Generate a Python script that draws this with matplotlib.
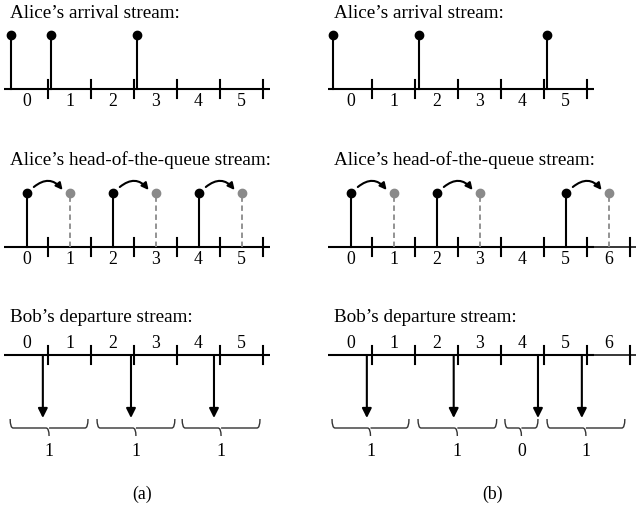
import numpy as np
from matplotlib import pyplot as plt
from matplotlib.path import Path
from matplotlib.patches import PathPatch

plt.rcParams['font.family'] = ['Liberation Serif', 'DejaVu Serif']

# panel (a): times measured in slots
arrivals_a = [0.14, 1.07, 3.07]
heads_a = [0.5, 2.5, 4.5]
departures_a = [0.88, 2.93, 4.86]
group_start_a = [0.12, 2.14, 4.12]
group_end_a = [1.93, 3.95, 5.93]
counts_a = [1, 1, 1]
slots_a = [6, 6, 6]

# panel (b)
arrivals_b = [0.09, 2.09, 5.07]
heads_b = [0.5, 2.5, 5.5]
departures_b = [0.88, 2.90, 4.86, 5.88]
group_start_b = [0.07, 2.07, 4.09, 5.07]
group_end_b = [1.86, 3.90, 4.86, 6.88]
counts_b = [1, 1, 0, 1]
slots_b = [6, 7, 7]

titles = ["Alice\u2019s arrival stream:",
          "Alice\u2019s head-of-the-queue stream:",
          "Bob\u2019s departure stream:"]

GRAY = '#8a8a8a'
LW = 1.5
FS_TITLE = 13.8
FS_NUM = 12.8

# vertical layout (pixel rows, y grows downwards)
row_base = [88.5, 247, 355]
title_y = [13, 160, 317]
stem_top = [35, 193]
tick_half = 9


def draw_axis(ax, y, nslots):
    end = nslots + 0.16
    ax.plot([-0.03, min(end, 6.16)], [y, y], color='k', lw=LW, solid_capstyle='butt')
    if end > 6.16:
        ax.plot([6.1, end], [y, y], color='k', lw=1.1, solid_capstyle='butt')
    for k in range(1, nslots + 1):
        ax.plot([k, k], [y - tick_half, y + tick_half], color='k', lw=LW)


def draw_brace(ax, x0, x1, ytop):
    xm = (x0 + x1) / 2
    r = 0.07
    yb = ytop + 9
    verts = [(x0, ytop), (x0, yb), (x0 + r, yb),
             (xm - r, yb), (xm, yb), (xm, yb + 8),
             (xm, yb), (xm + r, yb),
             (x1 - r, yb), (x1, yb), (x1, ytop)]
    codes = [Path.MOVETO, Path.CURVE3, Path.CURVE3,
             Path.LINETO, Path.CURVE3, Path.CURVE3,
             Path.MOVETO, Path.LINETO,
             Path.LINETO, Path.CURVE3, Path.CURVE3]
    ax.add_patch(PathPatch(Path(verts, codes), fill=False, ec='#333333', lw=1.0))


def draw_panel(ax, arrivals, heads, departures, gstart, gend, counts, slots, caption, cap_x):
    # row 1: arrivals
    y = row_base[0]
    ax.text(0.12, title_y[0], titles[0], fontsize=FS_TITLE, va='center', ha='left')
    draw_axis(ax, y, slots[0])
    for k in range(slots[0]):
        ax.text(k + 0.5, y + 13, str(k), fontsize=FS_NUM, ha='center', va='center')
    for t in arrivals:
        ax.plot([t, t], [y, stem_top[0]], color='k', lw=LW)
        ax.plot(t, stem_top[0], 'o', color='k', ms=6)

    # row 2: head of the queue
    y = row_base[1]
    ax.text(0.12, title_y[1], titles[1], fontsize=FS_TITLE, va='center', ha='left')
    draw_axis(ax, y, slots[1])
    for k in range(slots[1]):
        ax.text(k + 0.5, y + 12, str(k), fontsize=FS_NUM, ha='center', va='center')
    for h in heads:
        ax.plot([h + 1, h + 1], [y, stem_top[1]], color=GRAY, lw=1.3, ls=(0, (3, 2)))
        ax.plot(h + 1, stem_top[1], 'o', color=GRAY, ms=6)
        ax.plot([h, h], [y, stem_top[1]], color='k', lw=LW)
        ax.plot(h, stem_top[1], 'o', color='k', ms=6)
        ax.annotate('', xy=(h + 0.84, stem_top[1] - 3), xytext=(h + 0.17, stem_top[1] - 6),
                    arrowprops=dict(arrowstyle='-|>', color='k', lw=1.5, mutation_scale=10,
                                    shrinkA=0, shrinkB=0,
                                    connectionstyle='arc3,rad=-0.5'))

    # row 3: departures
    y = row_base[2]
    ax.text(0.12, title_y[2], titles[2], fontsize=FS_TITLE, va='center', ha='left')
    draw_axis(ax, y, slots[2])
    for k in range(slots[2]):
        ax.text(k + 0.5, y - 11, str(k), fontsize=FS_NUM, ha='center', va='center')
    for d in departures:
        ax.annotate('', xy=(d, 418), xytext=(d, y),
                    arrowprops=dict(arrowstyle='-|>', color='k', lw=1.5, mutation_scale=14,
                                    shrinkA=0, shrinkB=0))
    for x0, x1, c in zip(gstart, gend, counts):
        draw_brace(ax, x0, x1, 419)
        ax.text((x0 + x1) / 2, 451, str(c), fontsize=FS_NUM, ha='center', va='center')

    ax.text(cap_x, 494, caption, fontsize=FS_NUM, ha='center', va='center')


fig = plt.figure(figsize=(6.36, 5.08), dpi=100)
px = 43.0  # pixels per slot

ax_a = fig.add_axes([0, 0, 0.5, 1])
ax_a.set_xlim(-5 / px, (318 - 5) / px)
ax_b = fig.add_axes([0.5, 0, 0.5, 1])
ax_b.set_xlim((318 - 329) / px, (636 - 329) / px)
for ax in (ax_a, ax_b):
    ax.set_ylim(508, 0)
    ax.axis('off')

draw_panel(ax_a, arrivals_a, heads_a, departures_a, group_start_a, group_end_a,
           counts_a, slots_a, '(a)', 3.19)
draw_panel(ax_b, arrivals_b, heads_b, departures_b, group_start_b, group_end_b,
           counts_b, slots_b, '(b)', 3.81)

fig.savefig('out.png', dpi=100)
